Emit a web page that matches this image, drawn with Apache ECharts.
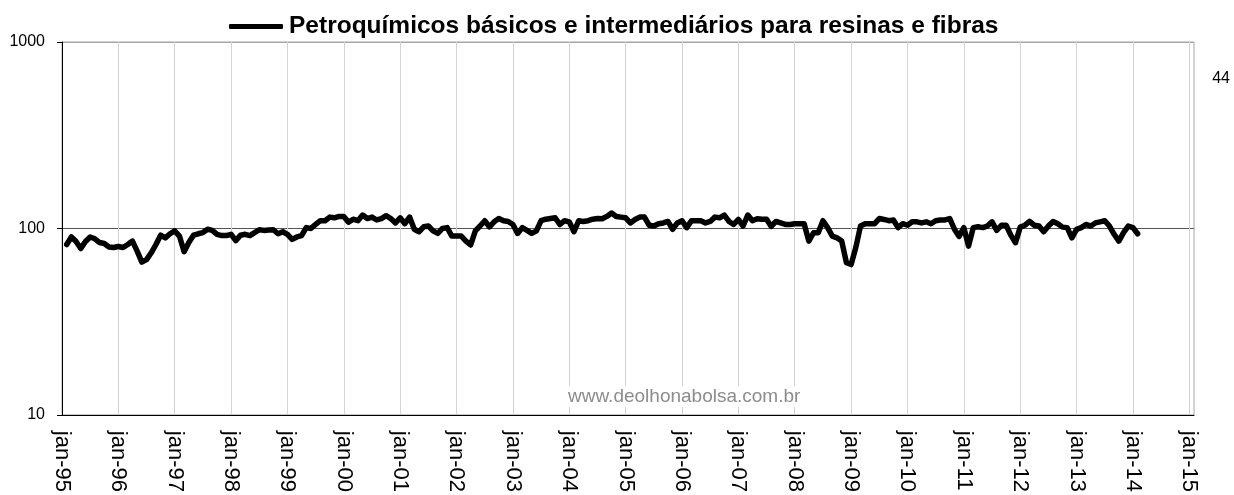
<!DOCTYPE html>
<html>
<head>
<meta charset="utf-8">
<script src="https://cdn.jsdelivr.net/npm/echarts@6/dist/echarts.min.js"></script>
<style>
  html, body { margin: 0; padding: 0; background: #fff; }
  #chart { width: 1234px; height: 495px; }
</style>
</head>
<body>
<div id="chart"></div>
<script>
// eixo x: meses de jan-95 até fev-15
const monthNames = ["jan", "fev", "mar", "abr", "mai", "jun", "jul", "ago", "set", "out", "nov", "dez"];
const firstYear = 1995;
const lastYear = 2015;
const seriesName = "Petroquímicos básicos e intermediários para resinas e fibras";
const startOffset = 1; // primeiro valor = fev-95
const yTicks = [10, 100, 1000];
const cornerNote = "44";
const watermark = "www.deolhonabolsa.com.br";

// índice mensal
const values = [
  82, 90, 85, 78, 85, 90, 88, 84, 83, 79.5, 79,
  80, 79, 82, 85.5, 75.6, 66, 68, 74, 82, 92, 89, 93.6,
  97, 91, 75, 84, 92, 93.6, 95, 99, 97.6, 93, 91.5, 91.5,
  93, 86, 92, 93, 91.5, 95, 98.4, 97.6, 98, 98.4, 93.6, 96,
  93, 87.3, 90, 91.5, 101, 100, 105, 110, 110, 115, 114, 116,
  116, 108, 112, 110, 118, 113, 115, 111, 113, 117, 113, 107,
  114, 106, 115, 99, 96, 102, 103, 97, 94, 100, 101, 91,
  91, 91, 85.5, 81.5, 97, 103, 110, 102, 108.5, 113, 110, 109,
  105, 94, 101, 97.6, 94, 97, 110, 112, 113, 114, 105, 110,
  108.5, 96, 110, 109, 110, 112, 113, 112.6, 116, 121, 116, 115,
  114, 107, 111.7, 115, 115, 104, 103, 106, 107, 109, 99, 107,
  110, 101, 110, 110, 110, 107, 109, 115, 114, 118, 109, 105,
  111.7, 103, 118, 110, 112.6, 112, 112, 102.5, 109, 107, 105, 105,
  106, 106, 106, 85.5, 94.8, 94.8, 110, 101, 91, 89, 85.5, 65.5,
  64, 79, 103, 106, 106, 106, 113, 111.7, 110, 111, 101, 106,
  104, 108.5, 108.5, 107, 108.5, 106, 110, 111, 111, 113, 99, 90.6,
  101, 80.4, 101, 102, 101, 103, 108.5, 97.6, 104, 104, 92, 83.8,
  101.6, 104, 109, 104, 103, 96, 103, 109, 106, 101.6, 101, 89,
  98.8, 101, 105, 103, 107, 108.5, 110, 103, 93, 85.5, 95, 103,
  101, 93.6
];

const categories = [];
for (let y = firstYear; y <= lastYear; y++) {
  for (let m = 0; m < 12; m++) {
    if (y === lastYear && m > 1) break;
    categories.push(monthNames[m] + "-" + String(y).slice(2));
  }
}

const seriesData = categories.map((c, i) => {
  const v = values[i - startOffset];
  return v === undefined ? "-" : v;
});

const chart = echarts.init(document.getElementById("chart"));
chart.setOption({
  animation: false,
  textStyle: { fontFamily: "Liberation Sans, Arial, sans-serif" },
  grid: {
    left: 62, right: 40, top: 42, bottom: 79,
    show: true, borderColor: "#a6a6a6", borderWidth: 1
  },
  legend: {
    top: 9,
    left: 224,
    icon: "roundRect",
    itemWidth: 54,
    itemHeight: 5,
    itemGap: 6,
    textStyle: { fontSize: 24.5, fontWeight: "bold", color: "#000", padding: [0, 0, 0, 1] },
    data: [seriesName]
  },
  xAxis: {
    type: "category",
    boundaryGap: false,
    data: categories,
    axisLine: { lineStyle: { color: "#000", width: 1 } },
    axisTick: { show: false },
    axisLabel: {
      interval: 11,
      rotate: -90,
      margin: 16,
      fontSize: 22,
      color: "#000"
    },
    splitLine: {
      show: true,
      interval: 11,
      lineStyle: { color: "#d4d4d4", width: 1 }
    }
  },
  yAxis: {
    type: "log",
    logBase: 10,
    min: yTicks[0],
    max: yTicks[yTicks.length - 1],
    axisLine: { show: true, lineStyle: { color: "#000", width: 1 } },
    axisTick: { show: true, inside: false, length: 5, lineStyle: { color: "#000" } },
    axisLabel: {
      fontSize: 16, color: "#000", margin: 17,
      formatter: (v) => String(Math.round(v))
    },
    splitLine: {
      show: true,
      lineStyle: { color: ["#000", "#555", "#a6a6a6"], width: 1 }
    }
  },
  graphic: [
    {
      type: "text",
      right: 4,
      top: 71,
      style: { text: cornerNote, fontSize: 16, fill: "#000", fontFamily: "Liberation Sans, Arial" }
    },
    {
      type: "text",
      left: 566,
      top: 386,
      z: 10,
      style: {
        text: watermark,
        fontSize: 19,
        fill: "#8c8c8c",
        fontFamily: "Liberation Sans, Arial",
        backgroundColor: "#fff",
        padding: [1, 2]
      }
    }
  ],
  series: [
    {
      name: seriesName,
      type: "line",
      data: seriesData,
      showSymbol: false,
      symbol: "none",
      lineStyle: { color: "#000", width: 5.5, join: "round", cap: "round" },
      itemStyle: { color: "#000" }
    }
  ]
});
</script>
</body>
</html>
